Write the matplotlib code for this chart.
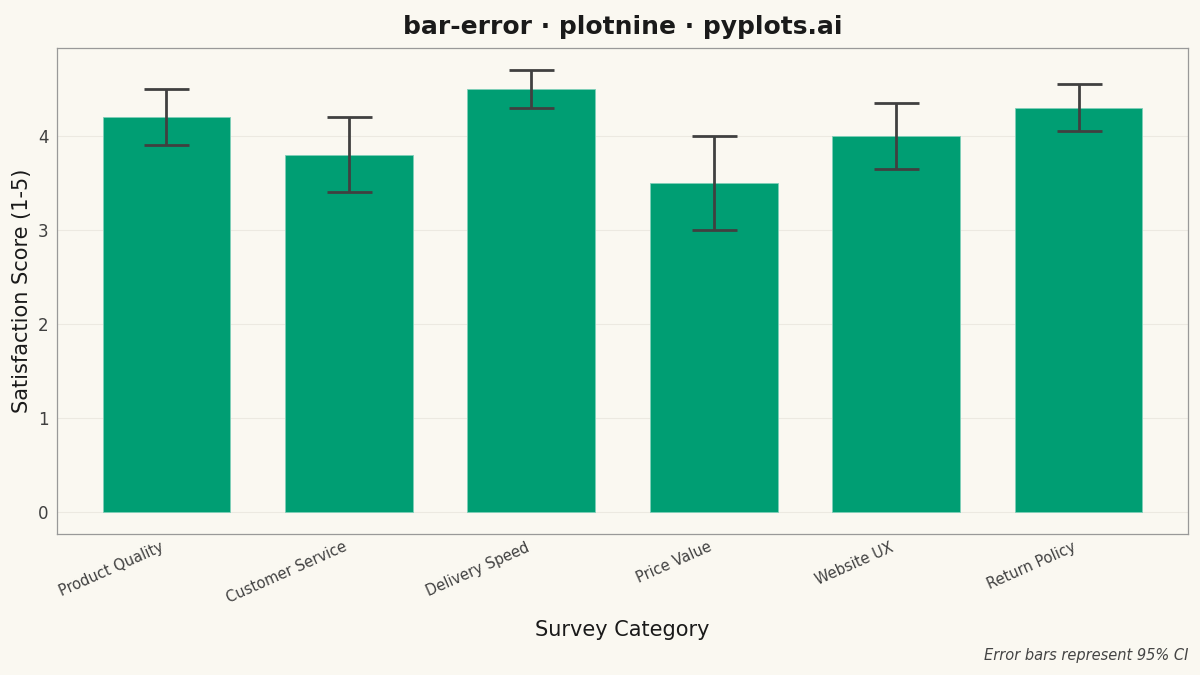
import matplotlib.pyplot as plt
import numpy as np

# survey data
categories = ["Product Quality", "Customer Service", "Delivery Speed",
              "Price Value", "Website UX", "Return Policy"]
scores = [4.2, 3.8, 4.5, 3.5, 4.0, 4.3]
ci_low = [3.9, 3.4, 4.3, 3.0, 3.65, 4.05]
ci_high = [4.5, 4.2, 4.7, 4.0, 4.35, 4.55]

bg = "#FAF8F1"
bar_color = "#009E73"
err_color = "#404040"

fig = plt.figure(figsize=(12, 6.75), dpi=100, facecolor=bg)
ax = fig.add_axes([0.0475, 0.2089, 0.9425, 0.72])
ax.set_facecolor(bg)

x = np.arange(1, len(categories) + 1)
scores = np.array(scores)
yerr = [scores - np.array(ci_low), np.array(ci_high) - scores]

ax.bar(x, scores, width=0.7, color=bar_color, edgecolor="#7fcfb9", linewidth=0.6, zorder=2)
ax.errorbar(x, scores, yerr=yerr, fmt="none", ecolor=err_color, elinewidth=2,
            capsize=16.2, capthick=2, zorder=3)

ax.set_xlim(0.4, len(categories) + 0.6)
top = max(ci_high)
ax.set_ylim(-0.05 * top, top * 1.05)
ax.set_yticks([0, 1, 2, 3, 4])
ax.set_xticks(x)
ax.set_xticklabels(categories, rotation=24, ha="right", va="top")
ax.tick_params(axis="both", length=0, labelsize=12, colors="#404040", pad=6)
ax.tick_params(axis="x", labelsize=10.5, pad=4)
ax.grid(axis="y", color="#ece9e1", linewidth=0.8, zorder=0)
for s in ax.spines.values():
    s.set_color("#999999")
    s.set_linewidth(0.9)

ax.set_xlabel("Survey Category", fontsize=15, color="#1a1a1a", labelpad=10)
ax.set_ylabel("Satisfaction Score (1-5)", fontsize=15, color="#1a1a1a", labelpad=4)
ax.set_title("bar-error · plotnine · pyplots.ai", fontsize=18, fontweight="bold",
             color="#1a1a1a", pad=10)
fig.text(0.99, 0.018, "Error bars represent 95% CI", ha="right", va="bottom",
         fontsize=10.5, style="italic", color="#444444")

fig.savefig("out.png", dpi=100, facecolor=bg)
